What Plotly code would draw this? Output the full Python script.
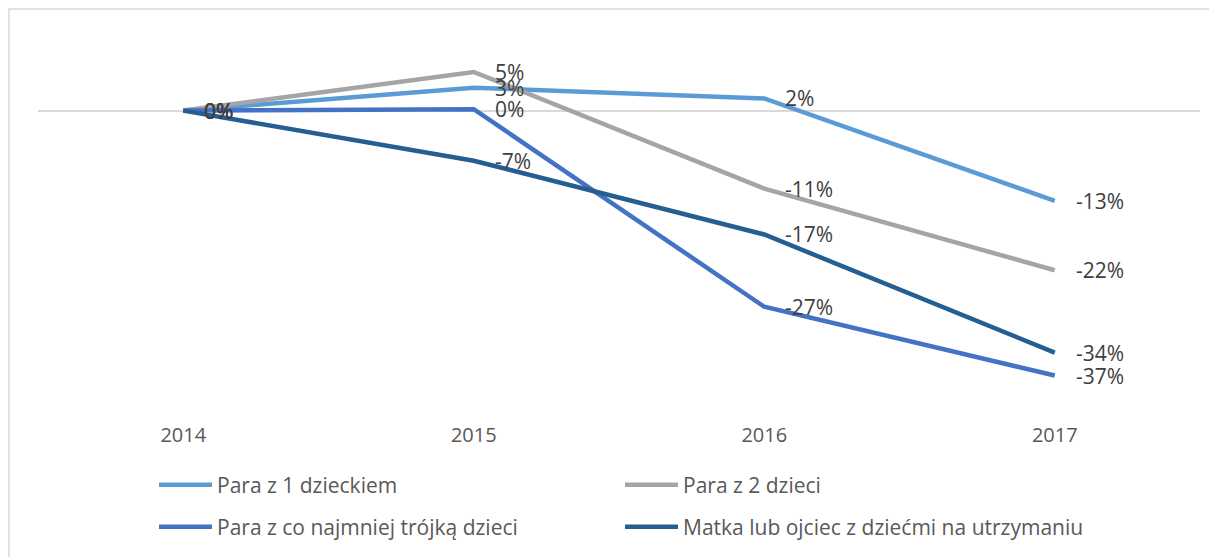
import plotly.graph_objects as go

years = ["2014", "2015", "2016", "2017"]
series_names = [
    "Para z 1 dzieckiem",
    "Para z 2 dzieci",
    "Para z co najmniej trójką dzieci",
    "Matka lub ojciec z dziećmi na utrzymaniu",
]
para_1 = [0.0, 0.032, 0.017, -0.126]
para_2 = [0.0, 0.054, -0.109, -0.223]
para_3 = [0.0, 0.002, -0.274, -0.370]
samotni = [0.0, -0.070, -0.173, -0.338]

series_values = [para_1, para_2, para_3, samotni]
colors = ["#5B9BD5", "#A5A5A5", "#4472C4", "#255E91"]
legend_ids = ["legend", "legend", "legend2", "legend2"]

OFF = 8  # page body margin
W, H = 1217 - OFF, 557 - OFF
L, T = 38 - OFF, 39 - OFF
R = 1217 - 1200
B = 557 - 397
pw, ph = W - L - R, H - T - B

fig = go.Figure()
annotations = []
for name, vals, col, lg in zip(series_names, series_values, colors, legend_ids):
    fig.add_trace(go.Scatter(
        x=years, y=vals, name=name, mode="lines",
        line=dict(color=col, width=4.5),
        legend=lg, hoverinfo="skip",
    ))
    for i, yv in enumerate(vals):
        annotations.append(dict(
            x=i, y=yv, xref="x", yref="y",
            text=f"{round(yv * 100):.0f}%",
            showarrow=False, xanchor="left", yanchor="middle",
            xshift=19, font=dict(family="Open Sans", size=21, color="#404040"),
        ))

def px_x(p):
    return (p - OFF - L) / pw

def px_y(p):
    return (H - B - (p - OFF)) / ph

fig.add_shape(type="rect", xref="paper", yref="paper",
              x0=px_x(9), x1=px_x(1240), y0=px_y(9), y1=px_y(580),
              line=dict(color="#D9D9D9", width=1.5), layer="below")

legend_common = dict(
    orientation="h", xanchor="left", yanchor="middle",
    entrywidth=398, entrywidthmode="pixels", itemwidth=53,
    font=dict(family="Open Sans", size=21, color="#595959"),
    bgcolor="rgba(0,0,0,0)", itemclick=False, itemdoubleclick=False,
    traceorder="normal",
)

fig.update_layout(
    width=W, height=H,
    margin=dict(l=L, r=R, t=T, b=B, autoexpand=False),
    paper_bgcolor="white", plot_bgcolor="white",
    showlegend=True,
    legend=dict(x=px_x(154), y=px_y(485), **legend_common),
    legend2=dict(x=px_x(154), y=px_y(527), **legend_common),
    xaxis=dict(
        type="category", range=[-0.5, 3.5], showgrid=False, showline=False,
        zeroline=False, ticks="", ticklabelstandoff=24,
        tickfont=dict(family="Open Sans", size=20, color="#595959"),
    ),
    yaxis=dict(
        range=[-0.40, 0.10], showgrid=False, showticklabels=False,
        zeroline=True, zerolinecolor="#D9D9D9", zerolinewidth=1.5,
        showline=False, ticks="",
    ),
    annotations=annotations,
)

fig.write_html("out.html")
